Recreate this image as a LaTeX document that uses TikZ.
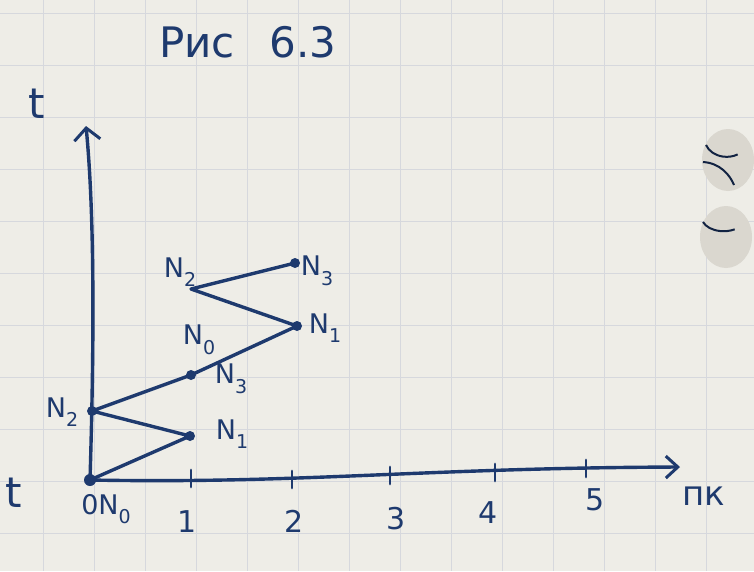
\documentclass[tikz,border=0pt]{standalone}
\usepackage{fontspec}
\setmainfont{DejaVu Sans}
\usetikzlibrary{arrows.meta}
\definecolor{inkc}{HTML}{1E3A6E}
\definecolor{paperc}{HTML}{EEEDE7}
\definecolor{gridc}{HTML}{D6D8DD}
\definecolor{holec}{HTML}{DAD7CF}
\newcommand\Nlab[1]{N\raisebox{-0.35em}{\fontsize{19}{19}\selectfont #1}}
\begin{document}
\begin{tikzpicture}[x=1pt,y=-1pt,
  ink/.style={draw=inkc, line width=3.4pt, line cap=round, line join=round},
  dotn/.style={circle, fill=inkc, inner sep=0pt, minimum size=10pt},
  lab/.style={text=inkc, font=\fontsize{27}{29}\selectfont, inner sep=0pt},
  num/.style={text=inkc, font=\fontsize{30}{32}\selectfont, inner sep=0pt},
  big/.style={text=inkc, font=\fontsize{42}{44}\selectfont, inner sep=0pt},
  tick/.style={draw=inkc, line width=2.8pt, line cap=round}]
\fill[paperc] (0,0) rectangle (754,571);
\useasboundingbox (0,0) rectangle (754,571);
% grid paper
\foreach \x in {43,94,...,760} \draw[gridc, line width=1pt] (\x,0) -- (\x,571);
\foreach \y in {13,65,...,571} \draw[gridc, line width=1pt] (0,\y) -- (754,\y);
% punched holes
\fill[holec] (728,160) ellipse (26pt and 31pt);
\fill[holec] (726,237) ellipse (26pt and 31pt);
\draw[inkc!60!black, line width=2pt] (706,145) arc (200:300:22pt and 18pt);
\draw[inkc!60!black, line width=2pt] (703,162) .. controls (720,163) and (730,175) .. (734,185);
\draw[inkc!60!black, line width=2pt] (703,222) arc (200:300:22pt and 14pt);
% title
\node[big] (tit1) at (197,42) {Рис};
\node[big] (tit2) at (303,42) {6.3};
% points
\coordinate (O) at (90,480);
\node[dotn] (n2a) at (92,411) {};
\node[dotn] (n1a) at (190,436) {};
\node[dotn] (n3a) at (191,375) {};
\node[dotn] (n1b) at (297,326) {};
\coordinate (n2b) at (191,289);
\node[dotn] (n3b) at (295,263) {};
\fill[inkc] (O) circle (6pt);
% axes
\coordinate (ytop) at (86,126);
\coordinate (xend) at (680,467);
\draw[ink, -{Straight Barb[length=12pt,width=26pt,line width=3pt]}] (O) .. controls (93,380) and (96,230) .. (ytop);
\draw[ink, -{Straight Barb[length=12pt,width=22pt,line width=3pt]}] (O) .. controls (300,484) and (420,468) .. (xend);
% ticks
\coordinate (t1) at (191,479);
\coordinate (t2) at (292,480);
\coordinate (t3) at (390,476);
\coordinate (t4) at (495,473);
\coordinate (t5) at (586,469);
\foreach \t in {t1,t2,t3,t4,t5} \draw[tick] ([yshift=-8pt]\t) -- ([yshift=9pt]\t);
% path
\draw[ink] (O) -- (n1a.center) -- (n2a.center) -- (n3a.center) -- (n1b.center) -- (n2b) -- (n3b.center);
% labels
\node[num] (l1) at (187,522) {1};
\node[num] (l2) at (294,521) {2};
\node[num] (l3) at (396,519) {3};
\node[num] (l4) at (488,513) {4};
\node[num] (l5) at (595,500) {5};
\node[lab] (l0) at (106,509) {0\Nlab{0}};
\node[big] (tx) at (14,493) {t};
\node[big] (ty) at (37,104) {t};
\node[lab, font=\fontsize{34}{36}\selectfont] (pk) at (704,496) {пк};
\node[lab] (N2a) at (62,412) {\Nlab{2}};
\node[lab] (N1a) at (232,434) {\Nlab{1}};
\node[lab] (N3a) at (231,379) {\Nlab{3}};
\node[lab] (N0) at (199,340) {\Nlab{0}};
\node[lab] (N1b) at (325,328) {\Nlab{1}};
\node[lab] (N2b) at (180,272) {\Nlab{2}};
\node[lab] (N3b) at (317,271) {\Nlab{3}};
\end{tikzpicture}
\end{document}
